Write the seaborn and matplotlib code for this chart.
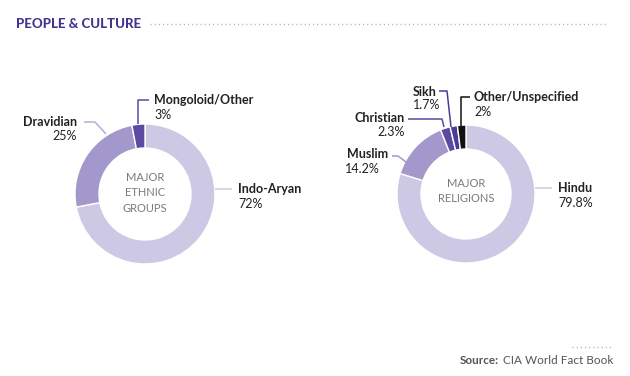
import matplotlib.pyplot as plt
import seaborn as sns

# figure size in pixels
W, H = 630, 376

# data
ethnic_labels = ['Indo-Aryan', 'Dravidian', 'Mongoloid/Other']
ethnic_values = [72, 25, 3]
religion_labels = ['Hindu', 'Muslim', 'Christian', 'Sikh', 'Other/Unspecified']
religion_values = [79.8, 14.2, 2.3, 1.7, 2]

ethnic_colors = ['#cdc8e3', '#a398cb', '#5b4aa0']
religion_colors = ['#cdc8e3', '#a398cb', '#5b4aa0', '#4b3b96', '#111111']
purple = '#41358f'

sns.set_theme(style='white')
plt.rcParams['font.family'] = ['Lato', 'DejaVu Sans']

fig = plt.figure(figsize=(W / 100, H / 100), dpi=100)
ax = fig.add_axes([0, 0, 1, 1])


def Y(p):
    # pixel row -> data y
    return H - p


def donut(values, colors, cx, cy, r=70, w=24):
    ax.pie(values, colors=colors, startangle=90, counterclock=False,
           center=(cx, Y(cy)), radius=r,
           wedgeprops=dict(width=w, edgecolor='white', linewidth=1))


def label(name, value, x, y, ha='left', x2=None, dy=15):
    ax.text(x, Y(y), name, ha=ha, va='center', fontsize=9,
            fontweight='bold', color='#222222')
    ax.text(x if x2 is None else x2, Y(y + dy), f'{value:g}%', ha=ha,
            va='center', fontsize=9, color='#222222')


def leader(pts, color):
    ax.plot([p[0] for p in pts], [Y(p[1]) for p in pts], color=color,
            lw=1.1, solid_capstyle='butt')


# donuts
donut(ethnic_values, ethnic_colors, 145, 194)
donut(religion_values, religion_colors, 466, 194, r=69)

# pie() resets the limits, so put pixel coordinates back
ax.set_xlim(0, W)
ax.set_ylim(0, H)
ax.set_aspect('equal')
ax.axis('off')

# centre captions
ax.text(145, Y(193), 'MAJOR\nETHNIC\nGROUPS', ha='center', va='center',
        fontsize=8, color='#7a7a7a', linespacing=1.55)
ax.text(466, Y(191), 'MAJOR\nRELIGIONS', ha='center', va='center',
        fontsize=8, color='#7a7a7a', linespacing=1.55)

# ethnic labels
leader([(138, 124), (138, 100), (149, 100)], ethnic_colors[2])
label(ethnic_labels[2], ethnic_values[2], 154, 100)
leader([(84, 122), (95, 122), (106, 134)], '#b5add5')
label(ethnic_labels[1], ethnic_values[1], 77, 122, ha='right', dy=14)
leader([(215, 189), (232, 189)], ethnic_colors[0])
label(ethnic_labels[0], ethnic_values[0], 238, 189)

# religion labels
leader([(535, 188), (552, 188)], religion_colors[0])
label(religion_labels[0], religion_values[0], 558, 188)
leader([(392, 156), (398, 156), (406, 162)], religion_colors[1])
label(religion_labels[1], religion_values[1], 388, 154, ha='right', x2=380)
leader([(408, 119), (442, 119), (444, 127)], religion_colors[2])
label(religion_labels[2], religion_values[2], 405, 118, ha='right', dy=14)
leader([(439, 91), (447, 91), (451, 127)], religion_colors[3])
label(religion_labels[3], religion_values[3], 413, 92, dy=13)
leader([(461, 127), (461, 97), (470, 97)], religion_colors[4])
label(religion_labels[4], religion_values[4], 474, 97)

# header
ax.text(16, Y(24), 'PEOPLE & CULTURE', ha='left', va='center', fontsize=9.5,
        fontweight='black', color=purple)
ax.plot([150, 606], [Y(24), Y(24)], color='#b0b0b0', lw=1,
        linestyle=(0, (0.8, 2.2)))

# source
ax.plot([572, 613], [Y(347), Y(347)], color='#b0b0b0', lw=1,
        linestyle=(0, (0.8, 2.2)))
src = ax.text(613, Y(360), 'CIA World Fact Book', ha='right', va='center',
              fontsize=8.5, color='#555555')
bb = src.get_window_extent(renderer=fig.canvas.get_renderer())
x0 = ax.transData.inverted().transform((bb.x0, bb.y0))[0]
ax.text(x0 - 4, Y(360), 'Source:', ha='right', va='center', fontsize=8.5,
        fontweight='bold', color='#555555')

fig.savefig('out.png', dpi=100, facecolor='white')
